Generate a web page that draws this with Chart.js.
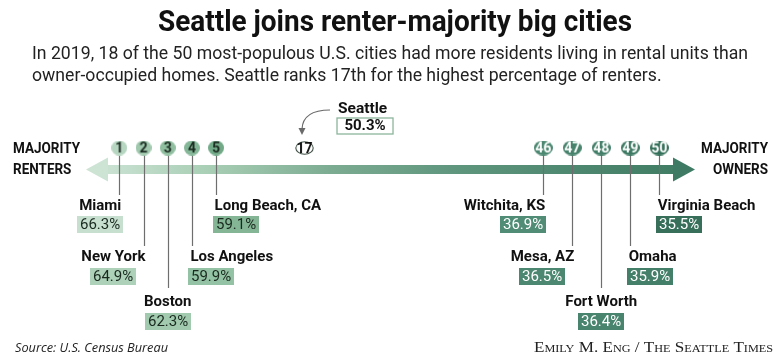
<!DOCTYPE html>
<html><head><meta charset="utf-8">
<script src="https://cdn.jsdelivr.net/npm/chart.js@4.4.1/dist/chart.umd.min.js"></script>
<style>html,body{margin:0;padding:0;background:#fff;}#wrap{width:780px;height:358px;position:relative;}</style>
</head><body><div id="wrap"><canvas id="c"></canvas></div>
<script>
// ---------- data ----------
const TITLE = 'Seattle joins renter-majority big cities';
const SUBTITLE = ['In 2019, 18 of the 50 most-populous U.S. cities had more residents living in rental units than',
                  'owner-occupied homes. Seattle ranks 17th for the highest percentage of renters.'];
const leftRanks = [1, 2, 3, 4, 5];
const leftCities = ['Miami', 'New York', 'Boston', 'Los Angeles', 'Long Beach, CA'];
const leftValues = [66.3, 64.9, 62.3, 59.9, 59.1];
const seattleRanks = [17];
const seattleCities = ['Seattle'];
const seattleValues = [50.3];
const rightRanks = [46, 47, 48, 49, 50];
const rightCities = ['Witchita, KS', 'Mesa, AZ', 'Fort Worth', 'Omaha', 'Virginia Beach'];
const rightValues = [36.9, 36.5, 36.4, 35.9, 35.5];
const leftEndLabel = ['MAJORITY', 'RENTERS'];
const rightEndLabel = ['MAJORITY', 'OWNERS'];
const SOURCE = 'Source: U.S. Census Bureau';
const CREDIT = 'Emily M. Eng / The Seattle Times';

// ---------- styles / layout ----------
const leftBadgeColors = ['#b7d6c1', '#9fc8ad', '#90bfa0', '#84b797', '#72aa88'];
const leftBoxColors = ['#c6dfcf', '#add1b9', '#a1caae', '#94c2a4', '#84b695'];
const rightBadgeColors = ['#4b8771', '#46826c', '#427e68', '#3d7963', '#346f59'];
const rightBoxColors = ['#508c76', '#4b8771', '#49846e', '#447f69', '#386f5b'];
const leftTiers = [0, 1, 2, 1, 0];
const leftAlign = ['right', 'right', 'center', 'left', 'left'];
const leftBoxAlign = ['center', 'center', 'center', 'left', 'left'];
const rightTiers = [0, 1, 2, 1, 0];
const rightAlign = ['right', 'right', 'center', 'left', 'left'];
const rightBoxAlign = ['right', 'center', 'center', 'left', 'left'];
const TIERS = [{lineEnd: 47, nameY: 58.5, boxTop: 68},
               {lineEnd: 98, nameY: 109.5, boxTop: 120},
               {lineEnd: 140, nameY: 154, boxTop: 165}];
const SANS = "Roboto, 'Open Sans', sans-serif";

function makeBadge(text, fill, color, w, h, stroke) {
  const c = document.createElement('canvas');
  c.width = w; c.height = h;
  const g = c.getContext('2d');
  g.beginPath();
  g.ellipse(w / 2, h / 2, w / 2 - (stroke ? 0.8 : 0), h / 2 - (stroke ? 0.8 : 0), 0, 0, Math.PI * 2);
  g.fillStyle = fill; g.fill();
  if (stroke) { g.lineWidth = 1.1; g.strokeStyle = stroke; g.stroke(); }
  g.fillStyle = color;
  g.font = 'bold 14px ' + SANS;
  g.textAlign = 'center'; g.textBaseline = 'middle';
  const tw = g.measureText(text).width;
  const sx = Math.min(1, (w - 3) / tw);
  g.save(); g.translate(w / 2, h / 2 + 1); g.scale(sx, 1);
  g.fillText(text, 0, 0);
  g.restore();
  return c;
}
const leftBadges = leftRanks.map((r, i) => makeBadge(String(r), leftBadgeColors[i], '#1c2b21', 16, 15));
const rightBadges = rightRanks.map((r, i) => makeBadge(String(r), rightBadgeColors[i], '#ffffff', 19, 15));
const seattleBadges = seattleRanks.map(r => makeBadge(String(r), '#ffffff', '#111111', 19, 14, '#3f4f45'));

// draw text condensed horizontally to a target width
function drawFit(ctx, text, x, y, font, targetW, align, scaleOverride) {
  ctx.font = font;
  const w = ctx.measureText(text).width;
  const sx = scaleOverride || targetW / w;
  ctx.save();
  ctx.translate(x, y); ctx.scale(sx, 1);
  ctx.textAlign = align;
  ctx.fillText(text, 0, 0);
  ctx.restore();
  return sx;
}

const arrowPlugin = {
  id: 'arrowAndLeaders',
  beforeDatasetsDraw(chart) {
    const ctx = chart.ctx;
    const yMid = chart.scales.y.getPixelForValue(0) + 21.5;
    ctx.save();
    const grad = ctx.createLinearGradient(86, 0, 695, 0);
    grad.addColorStop(0, '#d0e5d7');
    grad.addColorStop(0.2, '#a9cfb6');
    grad.addColorStop(0.4, '#7cac92');
    grad.addColorStop(0.62, '#5d947c');
    grad.addColorStop(1, '#3e7a63');
    ctx.fillStyle = grad;
    ctx.fillRect(107, yMid - 4.5, 567, 9);
    ctx.fillStyle = '#cde3d4';
    ctx.beginPath(); ctx.moveTo(86, yMid); ctx.lineTo(108, yMid - 12); ctx.lineTo(108, yMid + 12); ctx.closePath(); ctx.fill();
    ctx.fillStyle = '#3f7b64';
    ctx.beginPath(); ctx.moveTo(695, yMid); ctx.lineTo(673, yMid - 12); ctx.lineTo(673, yMid + 12); ctx.closePath(); ctx.fill();
    // leader lines
    ctx.strokeStyle = '#6e6e6e'; ctx.lineWidth = 1.2;
    [[0, leftTiers], [2, rightTiers]].forEach(([di, tiers]) => {
      chart.getDatasetMeta(di).data.forEach((pt, i) => {
        const x = Math.round(pt.x) + 0.5;
        ctx.beginPath(); ctx.moveTo(x, pt.y + 7); ctx.lineTo(x, pt.y + TIERS[tiers[i]].lineEnd); ctx.stroke();
      });
    });
    ctx.restore();
  },
  afterDraw(chart) {
    const ctx = chart.ctx;
    ctx.save();
    ctx.textBaseline = 'alphabetic';
    // title
    ctx.fillStyle = '#111';
    drawFit(ctx, TITLE, 395, 31, 'bold 29px ' + SANS, 474, 'center');
    // subtitle
    ctx.fillStyle = '#222';
    const ss = drawFit(ctx, SUBTITLE[0], 32, 59, '18.5px ' + SANS, 716, 'left');
    drawFit(ctx, SUBTITLE[1], 32, 81, '18.5px ' + SANS, 0, 'left', ss);
    // end labels
    ctx.fillStyle = '#111';
    const es = drawFit(ctx, leftEndLabel[0], 13, 153, 'bold 15.5px ' + SANS, 67, 'left');
    drawFit(ctx, leftEndLabel[1], 13, 174, 'bold 15.5px ' + SANS, 0, 'left', es);
    drawFit(ctx, rightEndLabel[0], 768, 153, 'bold 15.5px ' + SANS, 0, 'right', es);
    drawFit(ctx, rightEndLabel[1], 768, 174, 'bold 15.5px ' + SANS, 0, 'right', es);
    // city labels
    const drawGroup = (di, names, vals, tiers, align, balign, boxColors, txtColor) => {
      chart.getDatasetMeta(di).data.forEach((pt, i) => {
        const T = TIERS[tiers[i]];
        const x = pt.x, y = pt.y;
        ctx.font = 'bold 15px ' + SANS;
        ctx.textAlign = 'left'; ctx.textBaseline = 'middle';
        const nw = ctx.measureText(names[i]).width;
        let nl = align[i] === 'right' ? x + 2 - nw : align[i] === 'left' ? x - 1.5 : x - nw / 2;
        ctx.fillStyle = '#111';
        ctx.fillText(names[i], nl, y + T.nameY);
        ctx.font = '15px ' + SANS;
        const vt = vals[i].toFixed(1) + '%';
        const vw = ctx.measureText(vt).width;
        const bw = vw + 6, bh = 17;
        let bl = balign[i] === 'right' ? nl + nw + 1 - bw : balign[i] === 'left' ? nl - 2 : nl + nw / 2 - bw / 2;
        ctx.fillStyle = boxColors[i];
        ctx.fillRect(Math.round(bl), y + T.boxTop, Math.round(bw), bh);
        ctx.fillStyle = txtColor;
        ctx.fillText(vt, Math.round(bl) + 3, y + T.boxTop + bh / 2 + 0.5);
      });
    };
    drawGroup(0, leftCities, leftValues, leftTiers, leftAlign, leftBoxAlign, leftBoxColors, '#1a2a1f');
    drawGroup(2, rightCities, rightValues, rightTiers, rightAlign, rightBoxAlign, rightBoxColors, '#ffffff');
    // Seattle callout
    const sp = chart.getDatasetMeta(1).data[0];
    const sx = sp.x, sy = sp.y;
    ctx.strokeStyle = '#6a6a6a'; ctx.lineWidth = 1.2;
    ctx.beginPath(); ctx.moveTo(sx + 25.5, sy - 38);
    ctx.quadraticCurveTo(sx - 1.5, sy - 38, sx - 2.5, sy - 19); ctx.stroke();
    ctx.fillStyle = '#6a6a6a';
    ctx.beginPath(); ctx.moveTo(sx - 2.5, sy - 13); ctx.lineTo(sx - 6, sy - 20); ctx.lineTo(sx + 1, sy - 20); ctx.closePath(); ctx.fill();
    ctx.font = 'bold 15.5px ' + SANS; ctx.textAlign = 'left'; ctx.textBaseline = 'middle';
    ctx.fillStyle = '#111';
    ctx.fillText(seattleCities[0], sx + 33.5, sy - 39);
    ctx.fillStyle = '#fff'; ctx.strokeStyle = '#8db59c'; ctx.lineWidth = 1.3;
    ctx.fillRect(sx + 32.5, sy - 30, 56, 16); ctx.strokeRect(sx + 32.5, sy - 30, 56, 16);
    ctx.fillStyle = '#111'; ctx.textAlign = 'center';
    ctx.font = 'bold 15px ' + SANS;
    ctx.fillText(seattleValues[0].toFixed(1) + '%', sx + 60.5, sy - 21.5);
    // footer
    ctx.textBaseline = 'alphabetic';
    ctx.fillStyle = '#222';
    drawFit(ctx, SOURCE, 15, 352, "italic 13px 'Open Sans', sans-serif", 153, 'left');
    drawFit(ctx, CREDIT, 773, 352, 'small-caps 14px "Liberation Serif", serif', 239, 'right');
    ctx.restore();
  }
};

const pts = ranks => ranks.map(r => ({x: r, y: 0}));
new Chart(document.getElementById('c'), {
  type: 'scatter',
  data: {
    datasets: [
      {label: 'Majority renters', data: pts(leftRanks), xAxisID: 'xL', pointStyle: c => leftBadges[c.dataIndex], pointRadius: 8, clip: false},
      {label: 'Seattle', data: pts(seattleRanks), xAxisID: 'xS', pointStyle: c => seattleBadges[c.dataIndex], pointRadius: 8, clip: false},
      {label: 'Majority owners', data: pts(rightRanks), xAxisID: 'xR', pointStyle: c => rightBadges[c.dataIndex], pointRadius: 8, clip: false}
    ]
  },
  options: {
    responsive: true, maintainAspectRatio: false, animation: false, events: [],
    layout: {autoPadding: false, padding: {left: 0, right: 0, top: 140, bottom: 202}},
    scales: {
      xL: {type: 'linear', display: false, min: -3.930, max: 28.301},
      xS: {type: 'linear', display: false, min: 4.417, max: 36.648},
      xR: {type: 'linear', display: false, min: 27.266, max: 54.163},
      y: {type: 'linear', display: false, min: -1, max: 1}
    },
    plugins: {legend: {display: false}, tooltip: {enabled: false}}
  },
  plugins: [arrowPlugin]
});
</script></body></html>
